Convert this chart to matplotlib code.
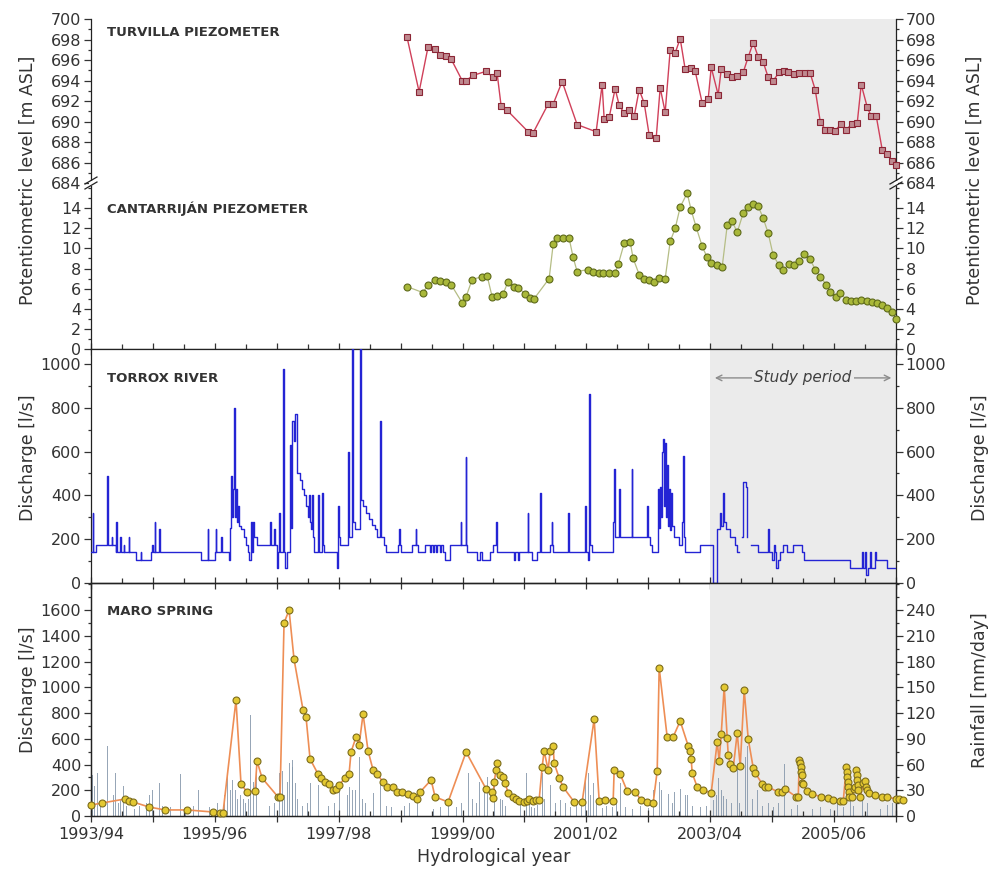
import numpy as np
import matplotlib
matplotlib.use("Agg")
import matplotlib.pyplot as plt
from matplotlib.ticker import MultipleLocator, FixedLocator
from matplotlib.lines import Line2D
from matplotlib.patches import Rectangle

plt.rcParams["font.family"] = ["DejaVu Sans"]

# time is in years since 1 Oct 1993 (start of the 1993/94 hydrological year)
HYDRO_YEARS = ["1993/94", "1994/95", "1995/96", "1996/97", "1997/98", "1998/99", "1999/00",
               "2000/01", "2001/02", "2002/03", "2003/04", "2004/05", "2005/06", "2006/07"]
STUDY_START, STUDY_END = 10.0, 13.0

# --- Turvilla piezometer [m ASL]
turvilla_t = [5.105, 5.299, 5.444, 5.557, 5.638, 5.735, 5.816, 5.994, 6.058, 6.171, 6.381, 6.494,
              6.559, 6.624, 6.720, 7.060, 7.141, 7.383, 7.464, 7.609, 7.851, 8.158, 8.255, 8.288,
              8.368, 8.465, 8.530, 8.611, 8.691, 8.772, 8.853, 8.934, 9.014, 9.128, 9.192, 9.273,
              9.354, 9.435, 9.515, 9.596, 9.693, 9.758, 9.871, 9.968, 10.016, 10.129, 10.178,
              10.275, 10.355, 10.436, 10.533, 10.614, 10.695, 10.775, 10.856, 10.937, 11.018,
              11.115, 11.195, 11.260, 11.357, 11.438, 11.535, 11.615, 11.696, 11.777, 11.858,
              11.939, 12.019, 12.116, 12.197, 12.294, 12.375, 12.439, 12.536, 12.601, 12.682,
              12.779, 12.859, 12.940, 13.000]
turvilla_level = [698.2, 692.9, 697.3, 697.1, 696.5, 696.4, 696.1, 694.0, 694.0, 694.5, 694.9, 694.3,
                  694.7, 691.5, 691.1, 689.0, 688.9, 691.7, 691.7, 693.9, 689.7, 689.0, 693.6, 690.2,
                  690.4, 693.2, 691.6, 690.8, 691.1, 690.5, 693.1, 691.8, 688.7, 688.4, 693.3, 690.9,
                  697.0, 696.7, 698.1, 695.1, 695.2, 694.9, 691.8, 692.2, 695.3, 692.6, 695.1,
                  694.6, 694.3, 694.4, 694.8, 696.3, 697.7, 696.3, 695.8, 694.3, 694.0,
                  694.8, 694.9, 694.8, 694.6, 694.7, 694.7, 694.7, 693.1, 690.0, 689.2,
                  689.2, 689.1, 689.8, 689.2, 689.8, 689.9, 693.6, 691.4, 690.5, 690.5,
                  687.2, 686.8, 686.1, 685.8]

# --- Cantarrijan piezometer [m ASL]
cantarrijan_t = [5.105, 5.363, 5.444, 5.557, 5.638, 5.735, 5.816, 5.994, 6.058, 6.155, 6.317, 6.397,
                 6.478, 6.559, 6.656, 6.737, 6.834, 6.898, 7.011, 7.092, 7.157, 7.399, 7.464, 7.528,
                 7.625, 7.722, 7.787, 7.851, 8.029, 8.110, 8.207, 8.271, 8.368, 8.465, 8.514, 8.611,
                 8.708, 8.756, 8.853, 8.934, 9.014, 9.095, 9.176, 9.273, 9.354, 9.435, 9.515, 9.628,
                 9.693, 9.774, 9.871, 9.951, 10.016, 10.113, 10.194, 10.275, 10.355, 10.436, 10.533,
                 10.614, 10.695, 10.775, 10.856, 10.937, 11.018, 11.115, 11.179, 11.276, 11.357,
                 11.438, 11.519, 11.615, 11.696, 11.777, 11.874, 11.939, 12.035, 12.100, 12.197,
                 12.278, 12.359, 12.439, 12.536, 12.617, 12.698, 12.779, 12.859, 12.940, 13.000]
cantarrijan_level = [6.2, 5.6, 6.4, 6.9, 6.8, 6.7, 6.4, 4.6, 5.2, 6.9, 7.2, 7.3,
                     5.2, 5.3, 5.5, 6.7, 6.2, 6.1, 5.5, 5.1, 5.0, 7.0, 10.4, 11.0,
                     11.0, 11.0, 9.1, 7.7, 7.9, 7.7, 7.6, 7.6, 7.6, 7.6, 8.4, 10.5,
                     10.6, 9.0, 7.4, 7.0, 6.9, 6.7, 7.1, 7.0, 10.7, 12.0, 14.1, 15.5,
                     13.8, 12.1, 10.2, 9.1, 8.5, 8.3, 8.2, 12.3, 12.7, 11.6, 13.5,
                     14.1, 14.4, 14.2, 13.0, 11.5, 9.3, 8.3, 7.9, 8.4, 8.3,
                     8.7, 9.4, 8.9, 7.9, 7.2, 6.4, 5.7, 5.2, 5.6, 4.9,
                     4.8, 4.8, 4.9, 4.8, 4.7, 4.6, 4.4, 4.1, 3.7, 3.0]

# --- Torrox river discharge [l/s], step values (each holds until the next time)
torrox_t = [0.000, 0.032, 0.040, 0.081, 0.258, 0.267, 0.339, 0.347, 0.404, 0.409, 0.420, 0.468,
            0.477, 0.533, 0.541, 0.614, 0.622, 0.727, 0.808, 0.816, 0.969, 0.985, 0.994, 1.034,
            1.042, 1.099, 1.107, 1.777, 1.890, 1.898, 2.003, 2.019, 2.027, 2.100, 2.108, 2.229,
            2.246, 2.262, 2.278, 2.294, 2.310, 2.326, 2.342, 2.359, 2.375, 2.391, 2.423, 2.472,
            2.504, 2.536, 2.553, 2.577, 2.585, 2.593, 2.617, 2.625, 2.682, 2.892, 2.900, 2.956,
            2.964, 3.005, 3.021, 3.037, 3.045, 3.102, 3.110, 3.126, 3.166, 3.215, 3.231, 3.247,
            3.271, 3.296, 3.328, 3.376, 3.409, 3.441, 3.473, 3.506, 3.522, 3.530, 3.554, 3.570,
            3.578, 3.603, 3.667, 3.675, 3.732, 3.740, 3.764, 3.974, 3.990, 3.998, 4.023, 4.152,
            4.160, 4.216, 4.224, 4.265, 4.346, 4.362, 4.394, 4.443, 4.491, 4.540, 4.588, 4.620,
            4.669, 4.677, 4.733, 4.766, 4.960, 4.981, 4.989, 5.008, 5.186, 5.246, 5.254, 5.283,
            5.396, 5.477, 5.493, 5.525, 5.541, 5.573, 5.590, 5.638, 5.654, 5.687, 5.719, 5.800,
            5.972, 5.981, 6.053, 6.061, 6.074, 6.236, 6.284, 6.317, 6.446, 6.494, 6.543, 6.551,
            6.559, 6.834, 6.850, 6.898, 6.914, 7.055, 7.063, 7.124, 7.205, 7.254, 7.262, 7.415,
            7.443, 7.451, 7.464, 7.711, 7.719, 7.981, 7.989, 8.029, 8.050, 8.058, 8.094, 8.433,
            8.449, 8.457, 8.530, 8.538, 8.735, 8.743, 8.982, 8.990, 9.031, 9.063, 9.160, 9.176,
            9.192, 9.208, 9.224, 9.241, 9.257, 9.273, 9.289, 9.305, 9.321, 9.337, 9.354, 9.370,
            9.386, 9.418, 9.499, 9.547, 9.564, 9.572, 9.596, 9.838, 10.048, 10.113, 10.161,
            10.178, 10.210, 10.226, 10.258, 10.323, 10.404, 10.436, 10.460, 10.517, 10.525,
            10.581, 10.589, 10.597, 10.662, 10.775, 10.937, 10.945, 11.002, 11.034, 11.042,
            11.066, 11.098, 11.131, 11.179, 11.243, 11.340, 11.486, 11.518, 12.262, 12.455,
            12.463, 12.504, 12.512, 12.552, 12.585, 12.593, 12.666, 12.682, 12.859, 13.000]
torrox_q = [140, 320, 140, 175, 490, 175, 210, 175, 140, 280, 140, 210,
            140, 175, 140, 210, 140, 105, 140, 105, 140, 175, 140, 280,
            140, 245, 140, 105, 245, 105, 140, 245, 140, 210, 140, 105,
            250, 490, 300, 430, 800, 300, 430, 280, 350, 260, 245, 210,
            175, 140, 105, 140, 280, 140, 280, 210, 175, 280, 175, 245,
            175, 70, 140, 320, 140, 977, 140, 70, 140, 630, 250, 740,
            650, 770, 500, 470, 430, 400, 350, 300, 400, 280, 245, 400,
            210, 140, 400, 140, 410, 175, 140, 70, 350, 210, 175, 600,
            210, 1100, 280, 245, 1100, 380, 350, 320, 290, 265, 245, 210,
            740, 210, 175, 140, 175, 245, 175, 140, 175, 245, 175, 140,
            175, 140, 175, 140, 175, 140, 175, 140, 175, 140, 105, 175,
            280, 175, 575, 175, 140, 105, 140, 105, 140, 175, 280, 175,
            140, 105, 140, 105, 140, 320, 140, 105, 140, 410, 140, 175,
            280, 175, 140, 320, 140, 350, 140, 105, 863, 175, 140, 280,
            520, 210, 430, 210, 520, 210, 350, 210, 175, 140, 430, 250,
            440, 300, 600, 657, 350, 640, 300, 540, 260, 430, 240, 410,
            260, 210, 175, 280, 580, 210, 140, 175, 0, 245, 320,
            260, 410, 280, 245, 210, 175, 140, np.nan, 210, 460,
            440, 210, np.nan, 175, 140, 245, 140, 105, 175, 140,
            70, 105, 140, 175, 140, 175, 140, 105, 70, 140,
            70, 140, 35, 70, 140, 70, 140, 105, 70, 70]

# --- Maro spring discharge [l/s]
maro_t = [0.000, 0.178, 0.549, 0.614, 0.679, 0.937, 1.195, 1.551, 1.971, 2.084, 2.132, 2.342,
          2.423, 2.520, 2.649, 2.682, 2.763, 3.021, 3.053, 3.118, 3.199, 3.279, 3.425, 3.473,
          3.538, 3.667, 3.716, 3.780, 3.845, 3.910, 3.958, 4.006, 4.103, 4.168, 4.200, 4.281,
          4.330, 4.394, 4.475, 4.556, 4.620, 4.717, 4.782, 4.879, 4.943, 5.024, 5.121, 5.202,
          5.267, 5.315, 5.493, 5.557, 5.767, 6.058, 6.381, 6.478, 6.494, 6.510, 6.543, 6.559,
          6.607, 6.656, 6.688, 6.737, 6.817, 6.866, 6.914, 6.995, 7.044, 7.076, 7.141, 7.189,
          7.237, 7.286, 7.318, 7.383, 7.415, 7.464, 7.480, 7.561, 7.625, 7.803, 7.932, 8.126,
          8.207, 8.304, 8.433, 8.449, 8.546, 8.659, 8.788, 8.885, 8.982, 9.079, 9.144, 9.176,
          9.305, 9.402, 9.515, 9.645, 9.677, 9.693, 9.709, 9.790, 9.887, 10.016, 10.113, 10.145,
          10.178, 10.226, 10.275, 10.291, 10.323, 10.372, 10.436, 10.485, 10.549, 10.614, 10.695,
          10.727, 10.840, 10.888, 10.937, 11.098, 11.163, 11.211, 11.389, 11.422, 11.438, 11.454,
          11.462, 11.470, 11.478, 11.486, 11.502, 11.567, 11.648, 11.793, 11.906, 11.987, 12.100,
          12.149, 12.197, 12.205, 12.213, 12.221, 12.229, 12.237, 12.245, 12.294, 12.326, 12.342,
          12.359, 12.367, 12.375, 12.383, 12.391, 12.423, 12.472, 12.504, 12.520, 12.536, 12.568,
          12.666, 12.779, 12.859, 13.005, 13.053, 13.118]
maro_q = [85, 101, 132, 116, 109, 70, 47, 47, 31, 23, 23, 900,
          249, 186, 194, 427, 295, 148, 148, 1499, 1600, 1219, 823, 769,
          443, 326, 295, 264, 249, 202, 210, 241, 295, 326, 497, 614,
          551, 792, 505, 357, 326, 264, 225, 225, 186, 186, 171, 155,
          132, 186, 280, 148, 109, 497, 210, 186, 140, 264, 357, 412,
          318, 303, 256, 179, 148, 132, 117, 109, 117, 132, 117, 124,
          124, 380, 505, 357, 505, 544, 412, 295, 225, 109, 109, 753,
          117, 124, 117, 357, 326, 194, 186, 124, 109, 101, 350, 1150,
          614, 614, 738, 544, 505, 443, 334, 225, 202, 179, 575, 427,
          637, 1002, 606, 474, 404, 373, 645, 388, 979, 598, 373,
          334, 249, 225, 225, 186, 186, 210, 148, 148, 435, 412,
          380, 342, 318, 256, 249, 194, 171, 148, 140, 124, 117,
          117, 380, 342, 303, 264, 225, 186, 148, 148, 210, 225,
          357, 318, 280, 241, 202, 148, 256, 272, 225, 202, 179,
          163, 148, 148, 132, 132, 124]

# --- daily rainfall [mm/day]
rain_t = [0.00, 0.03, 0.06, 0.10, 0.15, 0.21, 0.26, 0.34, 0.37, 0.40, 0.44, 0.48, 0.53, 0.57,
          0.71, 0.79, 0.89, 0.95, 1.00, 1.05, 1.10, 1.15, 1.28, 1.44, 1.52, 1.65, 1.73, 1.92,
          2.05, 2.10, 2.15, 2.18, 2.21, 2.25, 2.28, 2.31, 2.34, 2.37, 2.41, 2.46, 2.50, 2.55,
          2.58, 2.62, 2.68, 2.73, 2.81, 2.89, 2.97, 3.05, 3.10, 3.13, 3.18, 3.21, 3.25, 3.26,
          3.30, 3.34, 3.41, 3.49, 3.55, 3.67, 3.73, 3.83, 3.93, 4.01, 4.07, 4.14, 4.18, 4.23,
          4.27, 4.33, 4.38, 4.44, 4.56, 4.62, 4.67, 4.77, 4.86, 4.99, 5.07, 5.15, 5.20, 5.25,
          5.28, 5.33, 5.41, 5.53, 5.64, 5.77, 5.90, 5.99, 6.04, 6.09, 6.16, 6.22, 6.28, 6.35,
          6.41, 6.46, 6.51, 6.54, 6.61, 6.64, 6.70, 6.80, 6.93, 7.04, 7.08, 7.11, 7.16, 7.21,
          7.29, 7.33, 7.42, 7.50, 7.58, 7.66, 7.74, 7.84, 7.92, 7.98, 8.03, 8.06, 8.11, 8.16,
          8.22, 8.26, 8.32, 8.42, 8.48, 8.55, 8.63, 8.74, 8.87, 9.00, 9.08, 9.14, 9.18, 9.22,
          9.27, 9.32, 9.39, 9.43, 9.48, 9.52, 9.56, 9.60, 9.64, 9.71, 9.84, 9.94, 10.05, 10.10,
          10.13, 10.18, 10.21, 10.27, 10.34, 10.44, 10.48, 10.53, 10.57, 10.60, 10.61, 10.68,
          10.76, 10.84, 10.94, 11.02, 11.10, 11.20, 11.24, 11.31, 11.41, 11.45, 11.53, 11.65,
          11.78, 11.94, 12.05, 12.15, 12.21, 12.26, 12.31, 12.37, 12.42, 12.46, 12.54, 12.63,
          12.75, 12.86, 12.94]
rain_mm = [30, 48, 35, 50, 15, 10, 81, 35, 25, 50, 15, 20, 35, 12,
           8, 12, 15, 25, 30, 35, 39, 12, 10, 49, 8, 12, 30, 10,
           15, 33, 25, 45, 47, 30, 42, 38, 30, 20, 25, 20, 15, 20,
           118, 40, 58, 15, 10, 12, 15, 50, 52, 25, 40, 62, 57, 65,
           38, 20, 12, 15, 38, 36, 10, 12, 15, 35, 20, 25, 34, 30,
           30, 69, 20, 15, 27, 20, 38, 12, 10, 24, 12, 15, 20, 38,
           20, 30, 24, 8, 10, 12, 10, 15, 98, 50, 20, 15, 40, 30,
           45, 40, 35, 45, 20, 19, 12, 10, 15, 50, 15, 11, 9, 13,
           50, 20, 36, 15, 19, 15, 10, 12, 20, 46, 50, 25, 38, 20,
           15, 9, 12, 11, 15, 38, 10, 8, 12, 9, 30, 73, 40, 30,
           56, 26, 15, 28, 20, 32, 65, 25, 24, 12, 10, 12, 19, 25,
           44, 30, 23, 20, 15, 61, 15, 40, 69, 81, 60, 20,
           30, 12, 15, 10, 15, 61, 26, 8, 13, 21, 15, 8,
           10, 8, 15, 11, 20, 19, 12, 26, 15, 23, 15, 11,
           8, 13, 15]

SHADE = "#ebebeb"
TXT = "#333333"

fig = plt.figure(figsize=(9.92, 8.69), dpi=100)
L, W = 0.0917, 0.8115
ax_tu = fig.add_axes([L, 0.7894, W, 0.1887])
ax_ca = fig.add_axes([L, 0.5984, W, 0.1910])
ax_to = fig.add_axes([L, 0.3291, W, 0.2693])
ax_ma = fig.add_axes([L, 0.0610, W, 0.2681])
ax_rain = ax_ma.twinx()

for ax in (ax_tu, ax_ca, ax_to, ax_ma, ax_rain):
    ax.set_xlim(0, 13)
    ax.xaxis.set_major_locator(MultipleLocator(1))
    ax.xaxis.set_minor_locator(MultipleLocator(0.5))
    ax.tick_params(axis="both", which="both", labelsize=11.5, colors=TXT, width=0.9)
    ax.tick_params(axis="y", which="major", direction="out", length=5, pad=2)
    ax.tick_params(axis="y", which="minor", direction="out", length=2.5)
    ax.tick_params(axis="x", which="major", direction="inout", length=8)
    ax.tick_params(axis="x", which="minor", direction="in", length=3.5)
    ax.tick_params(axis="x", labelbottom=False, top=False)
    for sp in ax.spines.values():
        sp.set_color("#222222")
        sp.set_linewidth(0.9)

for ax in (ax_tu, ax_ca, ax_to, ax_rain):
    ax.axvspan(STUDY_START, STUDY_END, color=SHADE, lw=0, zorder=0)

# --- Turvilla
ax_tu.plot(turvilla_t, turvilla_level, color="#d0405a", lw=1.0, marker="s", ms=4,
           mfc="#bf8a90", mec="#8b2535", mew=0.8, clip_on=False, zorder=3)
ax_tu.set_ylim(684, 700)
ax_tu.yaxis.set_major_locator(MultipleLocator(2))
ax_tu.yaxis.set_minor_locator(MultipleLocator(1))
ax_tu.spines["top"].set_visible(False)
ax_tu.spines["bottom"].set_visible(False)
ax_tu.tick_params(axis="x", which="both", bottom=False)
ax_tu.tick_params(axis="y", which="both", right=True, labelright=True)
ax_tu.text(0.02, 0.92, "TURVILLA PIEZOMETER", transform=ax_tu.transAxes, fontsize=9.5,
           fontweight="bold", color=TXT, va="center")

# --- Cantarrijan
ax_ca.plot(cantarrijan_t, cantarrijan_level, color="#b5bd85", lw=0.9, marker="o", ms=5,
           mfc="#a9b83a", mec="#5e6a1a", mew=0.8, clip_on=False, zorder=3)
ax_ca.set_ylim(0, 16.5)
ax_ca.yaxis.set_major_locator(FixedLocator(list(range(0, 15, 2))))
ax_ca.yaxis.set_minor_locator(FixedLocator(list(range(1, 17))))
ax_ca.spines["top"].set_visible(False)
ax_ca.tick_params(axis="y", which="both", right=True, labelright=True)
ax_ca.text(0.02, 0.843, "CANTARRIJÁN PIEZOMETER", transform=ax_ca.transAxes, fontsize=9.5,
           fontweight="bold", color=TXT, va="center")

# --- Torrox
ax_to.plot(torrox_t, torrox_q, color="#2424d4", lw=1.0, drawstyle="steps-post", zorder=3)
ax_to.set_ylim(0, 1068)
ax_to.yaxis.set_major_locator(FixedLocator(list(range(0, 1001, 200))))
ax_to.yaxis.set_minor_locator(MultipleLocator(100))
ax_to.tick_params(axis="y", which="both", right=True, labelright=True)
ax_to.text(0.02, 0.876, "TORROX RIVER", transform=ax_to.transAxes, fontsize=9.5,
           fontweight="bold", color=TXT, va="center")
ax_to.annotate("", xy=(STUDY_START + 0.03, 936), xytext=(STUDY_END - 0.03, 936),
               arrowprops=dict(arrowstyle="<->", color="#8c8c8c", lw=1.0), zorder=4)
ax_to.text((STUDY_START + STUDY_END) / 2, 936, "Study period", style="italic", fontsize=11,
           color="#404040", ha="center", va="center", zorder=5,
           bbox=dict(fc=SHADE, ec="none", pad=1.5))

# --- Maro spring + rainfall
ax_rain.bar(rain_t, rain_mm, width=0.014, color="#8597ab", alpha=0.85, lw=0, zorder=2)
ax_rain.set_ylim(0, 271.5)
ax_rain.yaxis.set_major_locator(FixedLocator(list(range(0, 241, 30))))
ax_rain.yaxis.set_minor_locator(MultipleLocator(15))
ax_ma.set_zorder(ax_rain.get_zorder() + 1)
ax_ma.patch.set_visible(False)
ax_ma.plot(maro_t, maro_q, color="#ee8e55", lw=1.2, marker="o", ms=5,
           mfc="#e3c832", mec="#7d6d1c", mew=0.8, clip_on=False, zorder=3)
ax_ma.set_ylim(0, 1810)
ax_ma.yaxis.set_major_locator(FixedLocator(list(range(0, 1601, 200))))
ax_ma.yaxis.set_minor_locator(MultipleLocator(100))
ax_ma.tick_params(axis="x", labelbottom=True, pad=4)
ax_ma.set_xticks(range(0, 14))
ax_ma.set_xticklabels([lab if i % 2 == 0 else "" for i, lab in enumerate(HYDRO_YEARS)])
ax_ma.text(0.02, 0.876, "MARO SPRING", transform=ax_ma.transAxes, fontsize=9.5,
           fontweight="bold", color=TXT, va="center")

# axis break marks between the two piezometer panels
yb = 0.7894
for xf in (L, L + W):
    fig.add_artist(Rectangle((xf - 2 / 992, yb - 2.5 / 869), 4 / 992, 5 / 869,
                             fc="white", ec="none", zorder=10))
    for dy in (-2.5, 2.5):
        fig.add_artist(Line2D([xf - 6 / 992, xf + 6 / 992],
                              [yb + (dy - 3.5) / 869, yb + (dy + 3.5) / 869],
                              color="#222222", lw=0.9, zorder=11))

# axis labels
fig.text(0.028, 0.793, "Potentiometric level [m ASL]", rotation=90, ha="center", va="center",
         fontsize=12.5, color=TXT)
fig.text(0.983, 0.793, "Potentiometric level [m ASL]", rotation=90, ha="center", va="center",
         fontsize=12.5, color=TXT)
fig.text(0.028, 0.473, "Discharge [l/s]", rotation=90, ha="center", va="center",
         fontsize=12.5, color=TXT)
fig.text(0.988, 0.473, "Discharge [l/s]", rotation=90, ha="center", va="center",
         fontsize=12.5, color=TXT)
fig.text(0.028, 0.206, "Discharge [l/s]", rotation=90, ha="center", va="center",
         fontsize=12.5, color=TXT)
fig.text(0.988, 0.206, "Rainfall [mm/day]", rotation=90, ha="center", va="center",
         fontsize=12.5, color=TXT)
fig.text(0.498, 0.014, "Hydrological year", ha="center", va="center", fontsize=12.5, color=TXT)

fig.savefig("out.png", dpi=100)
